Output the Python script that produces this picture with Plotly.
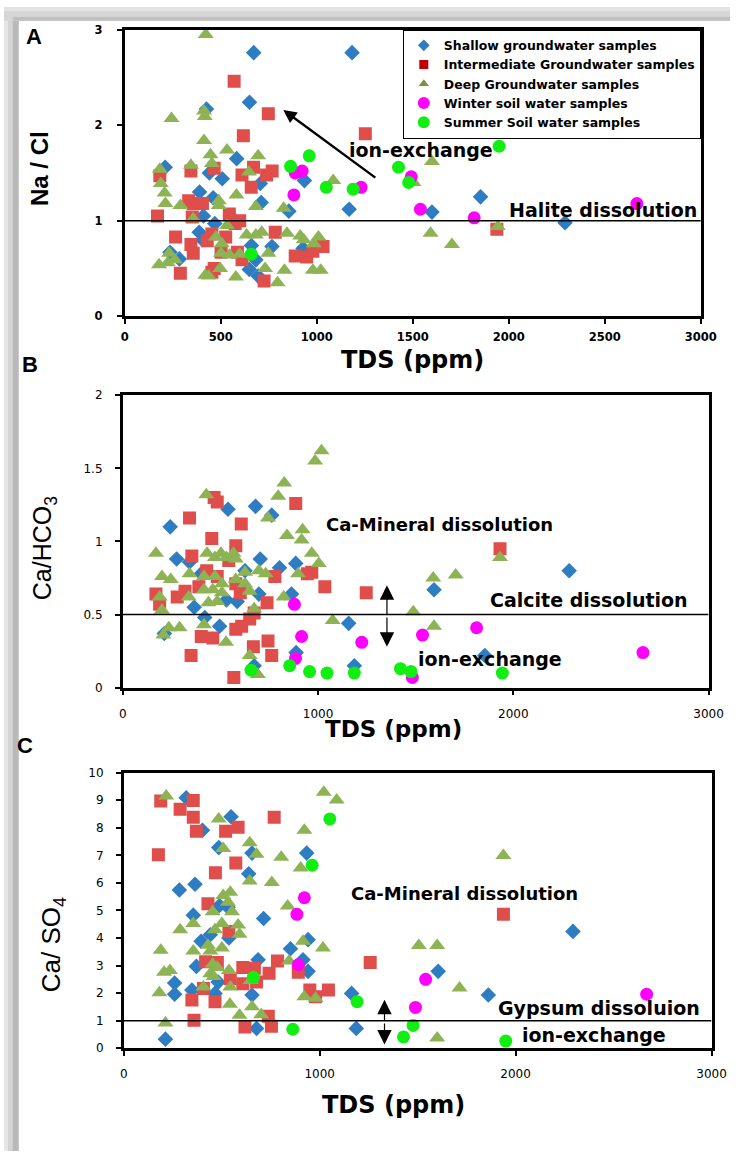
import plotly.graph_objects as go

W, H = 746, 1158

# ---------------- Panel A: Na/Cl vs TDS ----------------
na_cl_shallow = [(672, 2.76), (1184, 2.76), (650, 2.24), (426, 2.17), (211, 1.56), (583, 1.65),
                 (441, 1.50), (508, 1.44), (706, 1.39), (936, 1.42), (390, 1.30), (461, 1.24),
                 (711, 1.19), (855, 1.10), (1169, 1.12), (410, 1.05), (388, 0.88), (469, 0.97),
                 (1853, 1.25), (1600, 1.09), (2293, 0.98), (767, 0.73), (649, 0.49), (683, 0.59),
                 (695, 0.42), (236, 0.67), (285, 0.60), (405, 0.80), (550, 1.05), (929, 0.71),
                 (660, 0.74)]
na_cl_intermediate = [(570, 2.46), (748, 2.12), (618, 1.89), (1253, 1.91), (183, 1.47), (345, 1.52),
                      (466, 1.55), (611, 1.48), (671, 1.56), (659, 1.35), (739, 1.48), (768, 1.52),
                      (171, 1.05), (333, 1.21), (357, 1.18), (405, 1.18), (352, 1.04), (265, 0.83),
                      (345, 0.75), (357, 0.66), (290, 0.45), (430, 0.79), (466, 0.50), (454, 0.46),
                      (526, 0.83), (545, 1.07), (599, 1.00), (575, 0.97), (611, 0.59), (587, 0.67),
                      (726, 0.37), (784, 0.88), (888, 0.63), (948, 0.62), (980, 0.68), (1033, 0.73),
                      (1938, 0.91), (502, 0.67), (454, 0.86)]
na_cl_deep = [(422, 2.95), (244, 2.07), (413, 2.15), (417, 2.09), (413, 1.84), (447, 1.69),
              (454, 1.60), (533, 1.74), (183, 1.54), (188, 1.39), (208, 1.29), (212, 1.18),
              (290, 1.16), (345, 1.58), (490, 1.21), (490, 1.16), (582, 1.27), (647, 1.51),
              (695, 1.68), (683, 1.15), (828, 1.13), (1086, 1.42), (1504, 1.40), (1600, 1.62),
              (1593, 0.87), (1704, 0.75), (1943, 0.94), (533, 0.95), (357, 1.02), (179, 0.54),
              (232, 0.66), (224, 0.56), (261, 0.59), (420, 0.43), (437, 0.42), (497, 0.50),
              (475, 0.83), (506, 0.76), (502, 0.66), (545, 0.64), (599, 0.65), (635, 0.85),
              (683, 0.85), (714, 0.88), (748, 0.66), (731, 0.50), (579, 0.41), (796, 0.35),
              (832, 0.48), (845, 0.87), (914, 0.84), (932, 0.80), (980, 0.48), (1021, 0.48),
              (1009, 0.83), (985, 0.76)]
na_cl_winter = [(888, 1.50), (924, 1.52), (881, 1.27), (1231, 1.35), (1492, 1.46), (1540, 1.12),
                (1820, 1.03), (2667, 1.18)]
na_cl_summer = [(864, 1.57), (961, 1.68), (1050, 1.35), (1190, 1.33), (1426, 1.56), (1479, 1.40),
                (1950, 1.78), (659, 0.65)]

# ---------------- Panel B: Ca/HCO3 vs TDS ----------------
ca_hco3_shallow = [(243, 1.10), (276, 0.88), (539, 1.22), (680, 1.24), (763, 1.18), (704, 0.88),
                   (803, 0.82), (886, 0.85), (864, 0.64), (697, 0.64), (586, 0.59), (531, 0.60),
                   (626, 0.80), (496, 0.42), (420, 0.48), (213, 0.37), (342, 0.86), (366, 0.55),
                   (1157, 0.44), (888, 0.24), (1594, 0.67), (2286, 0.80), (1854, 0.22), (1186, 0.15),
                   (673, 0.15), (402, 0.78)]
ca_hco3_intermediate = [(342, 1.16), (468, 1.30), (484, 1.27), (886, 1.26), (456, 1.02), (607, 1.12),
                        (579, 0.97), (354, 0.90), (170, 0.64), (189, 0.57), (279, 0.62), (319, 0.66),
                        (390, 0.69), (430, 0.80), (484, 0.76), (543, 0.87), (579, 0.71), (602, 0.65),
                        (739, 0.58), (779, 0.76), (945, 0.78), (968, 0.79), (1035, 0.69), (1247, 0.65),
                        (1932, 0.95), (402, 0.35), (461, 0.34), (350, 0.22), (579, 0.40), (609, 0.42),
                        (650, 0.47), (669, 0.28), (744, 0.32), (763, 0.22), (569, 0.07), (673, 0.51)]
ca_hco3_deep = [(428, 1.32), (827, 1.40), (796, 1.31), (744, 1.16), (985, 1.55), (1018, 1.62),
                (841, 1.04), (921, 1.08), (916, 1.01), (968, 0.92), (1004, 0.85), (898, 0.78),
                (824, 0.62), (170, 0.92), (201, 0.76), (246, 0.74), (189, 0.62), (201, 0.53),
                (236, 0.41), (291, 0.41), (208, 0.36), (416, 0.43), (529, 0.31), (650, 0.22),
                (692, 0.09), (673, 0.54), (650, 0.66), (626, 0.71), (432, 0.92), (472, 0.89),
                (503, 0.92), (531, 0.89), (567, 0.92), (579, 0.88), (342, 0.78), (416, 0.76),
                (472, 0.76), (508, 0.71), (579, 0.74), (416, 0.67), (461, 0.67), (508, 0.65),
                (439, 0.58), (484, 0.59), (338, 0.62), (697, 0.80), (732, 0.78), (626, 0.79),
                (1075, 0.46), (1488, 0.52), (1590, 0.75), (1705, 0.77), (1594, 0.42), (1932, 0.89)]
ca_hco3_winter = [(879, 0.57), (916, 0.35), (885, 0.20), (1224, 0.31), (1535, 0.36), (1812, 0.41),
                  (1483, 0.07), (2664, 0.24)]
ca_hco3_summer = [(657, 0.12), (855, 0.15), (957, 0.11), (1046, 0.10), (1186, 0.10), (1422, 0.13),
                  (1476, 0.11), (1944, 0.10)]

# ---------------- Panel C: Ca/SO4 vs TDS ----------------
ca_so4_shallow = [(319, 9.09), (548, 8.40), (402, 7.91), (485, 7.28), (655, 7.08), (934, 7.08),
                  (638, 6.33), (284, 5.74), (364, 5.95), (714, 4.71), (355, 4.83), (489, 5.18),
                  (532, 5.12), (2293, 4.24), (851, 3.61), (941, 3.94), (537, 4.00), (442, 4.12),
                  (395, 3.88), (371, 2.97), (686, 3.21), (915, 3.21), (941, 2.79), (1605, 2.79),
                  (1861, 1.93), (1163, 1.99), (1187, 0.72), (678, 0.72), (655, 1.93), (260, 2.37),
                  (260, 1.96), (348, 2.11), (466, 1.99), (213, 0.33), (482, 2.40)]
ca_so4_intermediate = [(189, 8.97), (288, 8.67), (355, 8.99), (355, 8.38), (371, 7.87), (520, 7.87),
                       (584, 8.02), (768, 8.38), (177, 7.02), (572, 6.72), (468, 6.37), (430, 5.24),
                       (537, 4.24), (1938, 4.86), (1258, 3.11), (418, 3.14), (478, 3.11), (608, 2.93),
                       (667, 2.90), (544, 2.52), (608, 2.34), (678, 2.40), (742, 2.72), (785, 3.17),
                       (891, 2.76), (950, 2.11), (1045, 2.11), (979, 1.87), (348, 1.75), (466, 1.69),
                       (407, 2.17), (359, 1.02), (619, 0.77), (738, 1.16), (754, 0.80)]
ca_so4_deep = [(217, 9.15), (1021, 9.29), (1087, 9.01), (485, 8.32), (508, 7.25), (643, 7.46),
               (678, 7.04), (804, 6.93), (922, 7.91), (903, 6.54), (643, 6.07), (756, 6.01),
               (1938, 6.99), (508, 5.54), (544, 5.66), (532, 5.30), (553, 4.95), (454, 4.95),
               (837, 5.16), (288, 4.30), (355, 4.53), (501, 4.53), (466, 4.30), (584, 4.47),
               (591, 4.14), (189, 3.56), (355, 3.53), (430, 3.74), (442, 3.53), (501, 3.64),
               (915, 3.88), (1017, 3.64), (1506, 3.73), (1600, 3.73), (206, 2.76), (236, 2.82),
               (182, 2.01), (454, 3.05), (478, 2.93), (537, 2.82), (442, 2.70), (459, 2.60),
               (544, 2.22), (407, 2.22), (542, 1.60), (591, 1.20), (655, 1.51), (702, 1.22),
               (844, 3.17), (648, 2.46), (922, 1.87), (979, 1.81), (213, 0.92), (1600, 0.37),
               (1714, 2.19)]
ca_so4_winter = [(922, 5.46), (884, 4.86), (891, 3.03), (1541, 2.50), (1489, 1.48), (2669, 1.96)]
ca_so4_summer = [(1052, 8.32), (962, 6.64), (662, 2.58), (1191, 1.69), (863, 0.69), (1477, 0.83),
                 (1428, 0.41), (1950, 0.26)]

SERIES = [
    ("Shallow groundwater samples", "diamond", "#2E7DC2", 12),
    ("Intermediate Groundwater samples", "square", "#DF4E4B", 13),
    ("Deep Groundwater samples", "triangle-up", "#8DB354", 14),
    ("Winter soil water samples", "circle", "#FF00FF", 13),
    ("Summer Soil water samples", "circle", "#11EE11", 13),
]
PANELS = [
    ("x", "y", [na_cl_shallow, na_cl_intermediate, na_cl_deep, na_cl_winter, na_cl_summer]),
    ("x2", "y2", [ca_hco3_shallow, ca_hco3_intermediate, ca_hco3_deep, ca_hco3_winter, ca_hco3_summer]),
    ("x3", "y3", [ca_so4_shallow, ca_so4_intermediate, ca_so4_deep, ca_so4_winter, ca_so4_summer]),
]


def px(x, y):
    """Pixel position -> paper coordinates."""
    return x / W, 1 - y / H


fig = go.Figure()

for xa, ya, groups in PANELS:
    for (name, sym, col, size), pts in zip(SERIES, groups):
        fig.add_trace(go.Scatter(
            x=[p[0] for p in pts], y=[p[1] for p in pts], mode="markers",
            xaxis=xa, yaxis=ya, name=name, showlegend=False,
            marker=dict(symbol=sym, color=col, size=size, line=dict(width=0)),
        ))

# legend keys
LEGEND_KEYS = [("diamond", "#2E7DC2", 9), ("square", "#C00000", 9), ("triangle-up", "#77933C", 9),
               ("circle", "#FF00FF", 12), ("circle", "#11EE11", 12)]
for (name, _, _, _), (sym, col, size) in zip(SERIES, LEGEND_KEYS):
    fig.add_trace(go.Scatter(x=[None], y=[None], mode="markers", name=name, showlegend=True,
                             marker=dict(symbol=sym, color=col, size=size)))

tick_a = dict(family="DejaVu Sans", size=11.5, color="black", weight="bold")
tick_bc = dict(family="DejaVu Sans", size=12, color="black")


def axis(dom, rng, dtick, font, standoff):
    return dict(domain=dom, range=rng, dtick=dtick, showline=True, linecolor="black", linewidth=2.5,
                mirror=True, ticks="outside", ticklen=5, tickwidth=1.5, tickcolor="black",
                showgrid=False, zeroline=False, tickfont=font, ticklabelstandoff=standoff,
                fixedrange=True)


def dom_x(x0, x1):
    return [x0 / W, x1 / W]


def dom_y(y0, y1):
    return [1 - y1 / H, 1 - y0 / H]


fig.update_layout(
    width=W, height=H, margin=dict(l=0, r=0, t=0, b=0),
    paper_bgcolor="white", plot_bgcolor="white",
    xaxis=axis(dom_x(124, 716), [0, 3000], 500, tick_a, 3) | dict(anchor="y"),
    yaxis=axis(dom_y(23, 313), [0, 3], 1, tick_a, 12) | dict(anchor="x"),
    xaxis2=axis(dom_x(122, 724), [0, 3000], 1000, tick_bc, 8) | dict(anchor="y2"),
    yaxis2=axis(dom_y(393, 689), [0, 2], 0.5, tick_bc, 10) | dict(anchor="x2"),
    xaxis3=axis(dom_x(123, 727), [0, 3000], 1000, tick_bc, 8) | dict(anchor="y3"),
    yaxis3=axis(dom_y(775, 1054), [0, 10], 1, tick_bc, 10) | dict(anchor="x3"),
    legend=dict(x=716 / W, y=1 - 23 / H, xanchor="right", yanchor="top",
                bgcolor="white", bordercolor="black", borderwidth=1, itemwidth=30,
                font=dict(family="DejaVu Sans", size=12.5, color="black", weight="bold"),
                tracegroupgap=0),
)

# reference ratio lines
for xa, ya, level in [("x", "y", 1), ("x2", "y2", 0.5), ("x3", "y3", 1)]:
    fig.add_shape(type="line", xref=xa, yref=ya, x0=0, x1=3000, y0=level, y1=level,
                  line=dict(color="black", width=1.5), layer="above")

# picture frame bands
for (x0, x1, y0, y1, c) in [(0, 15, 0, H, "#e6e6e6"), (4, 15, 0, H, "#d4d4d4"), (9, 15, 0, H, "#b9b9b9"),
                            (0, W, 0, 14, "#e2e2e2"), (0, W, 4, 14, "#d6d6d6"), (9, W, 10, 14, "#c0c0c0")]:
    a0, b0 = px(x0, y0)
    a1, b1 = px(x1, y1)
    fig.add_shape(type="rect", xref="paper", yref="paper", x0=a0, x1=a1, y0=b1, y1=b0,
                  fillcolor=c, line=dict(width=0), layer="below")

BOLD = "DejaVu Sans"


def label(text, x, y, size, family=BOLD, weight="bold", angle=0):
    ax, ay = px(x, y)
    fig.add_annotation(text=text, x=ax, y=ay, xref="paper", yref="paper", showarrow=False,
                       xanchor="center", yanchor="middle", textangle=angle,
                       font=dict(family=family, size=size, color="black", weight=weight))


# panel letters
label("A", 31, 30, 22, family="Liberation Sans")
label("B", 27, 362, 22, family="Liberation Sans")
label("C", 22, 748, 22, family="Liberation Sans")

# axis titles
label("TDS (ppm)", 420, 357, 24)
label("TDS (ppm)", 400, 731, 23)
label("TDS (ppm)", 400, 1111, 24)
label("Na / Cl", 36, 164, 24, family="Liberation Sans", angle=-90)
label("Ca/HCO<sub>3</sub>", 42, 548, 25, family="Liberation Sans", weight="normal", angle=-90)
label("Ca/ SO<sub>4</sub>", 50, 949, 26, family="Liberation Sans", weight="normal", angle=-90)

# process annotations
label("ion-exchange", 429, 145, 19)
label("Halite dissolution", 616, 205, 19)
label("Ca-Mineral dissolution", 447, 524, 18)
label("Calcite dissolution", 601, 600, 19)
label("ion-exchange", 499, 660, 19)
label("Ca-Mineral dissolution", 473, 897, 18)
label("Gypsum dissoluion", 611, 1013, 19)
label("ion-exchange", 606, 1041, 19)

# arrows
fig.add_annotation(xref="x", yref="y", axref="x", ayref="y", x=826, y=2.16, ax=1313, ay=1.44,
                   text="", showarrow=True, arrowhead=2, arrowsize=1.1, arrowwidth=2.4,
                   arrowcolor="black")
for xa, ya, xpos, mid, ends in [("x2", "y2", 1353, 0.49, (0.70, 0.28)),
                                ("x3", "y3", 1331, 0.95, (1.76, 0.14))]:
    for end in ends:
        fig.add_annotation(xref=xa, yref=ya, axref=xa, ayref=ya, x=xpos, y=end, ax=xpos, ay=mid,
                           text="", showarrow=True, arrowhead=2, arrowsize=2.4, arrowwidth=1.2,
                           arrowcolor="black")

fig.write_html("out.html")
